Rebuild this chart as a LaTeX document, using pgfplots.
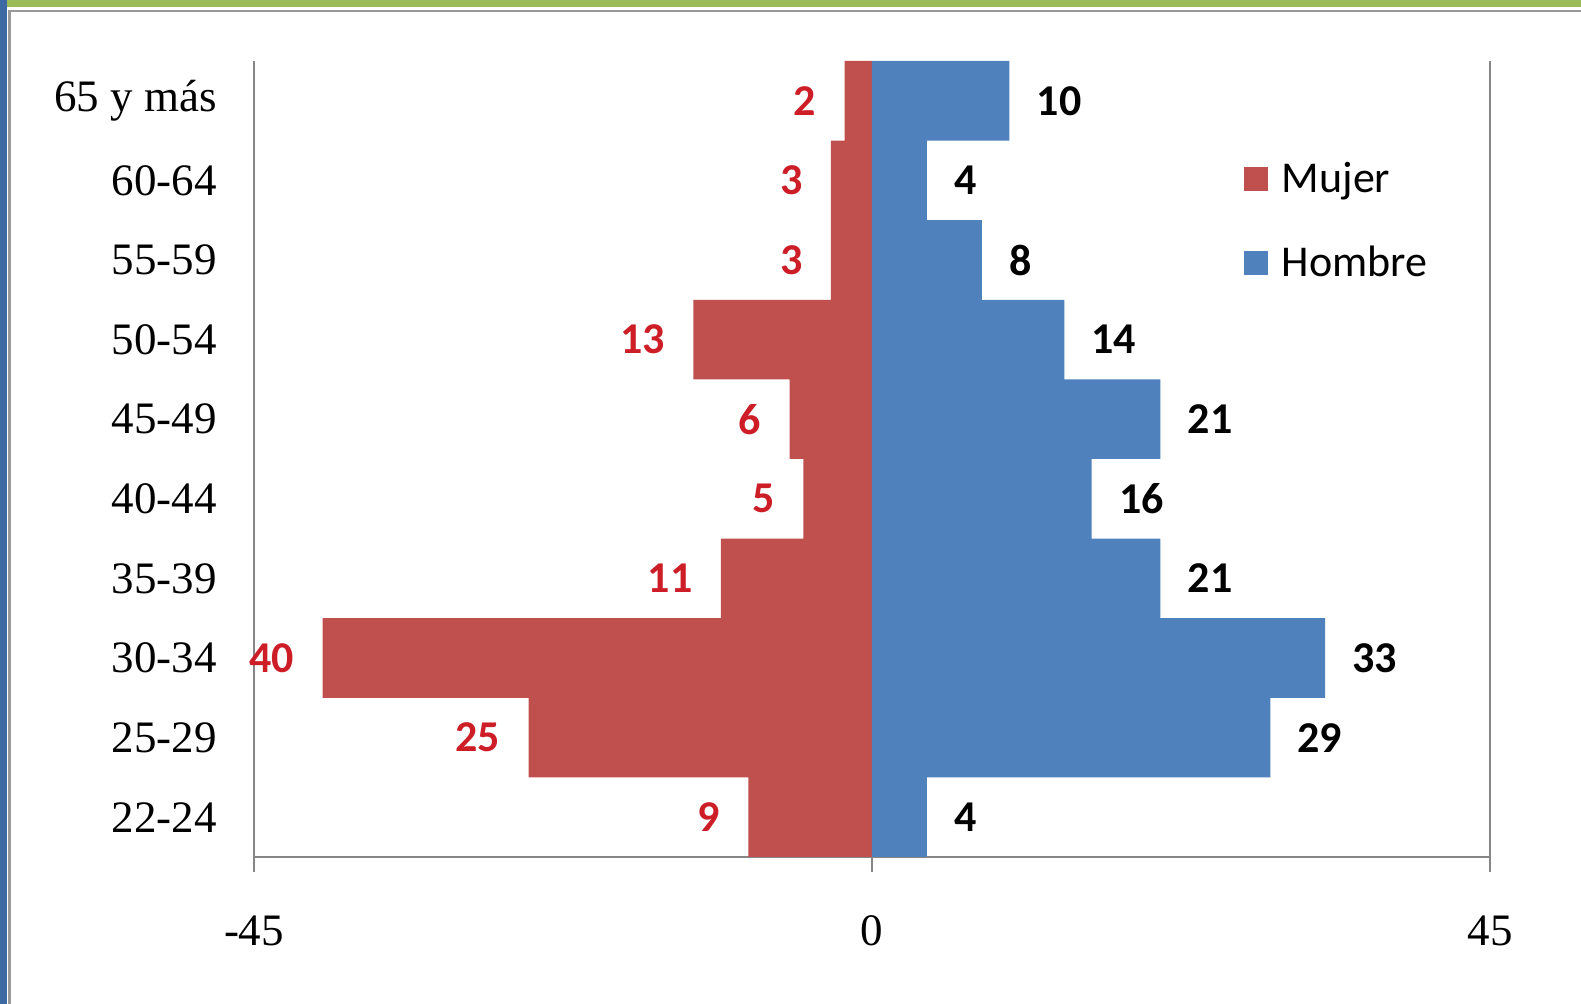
\documentclass[border=0pt]{standalone}
\usepackage{pgfplots}
\pgfplotsset{compat=1.18}
\usepackage{fontspec}
\setmainfont{Carlito}
\newfontfamily\tickfont{Liberation Serif}
\definecolor{mred}{RGB}{192,80,77}
\definecolor{hblue}{RGB}{79,129,189}
\definecolor{lblred}{RGB}{205,30,40}
\definecolor{fgreen}{RGB}{155,187,89}
\definecolor{fblue}{RGB}{62,106,164}
\definecolor{gridg}{RGB}{134,134,134}
\begin{document}
\begin{tikzpicture}
\useasboundingbox (0,0) rectangle (790.5pt,502pt);
\fill[white] (0,0) rectangle (790.5pt,502pt);
\fill[fgreen] (2pt,498.5pt) rectangle (790.5pt,502pt);
\fill[fblue] (0,0) rectangle (3.5pt,502pt);
\draw[gray!80, line width=1.2pt] (4.8pt,0) -- (4.8pt,496.5pt) -- (790.5pt,496.5pt);
\begin{axis}[
  at={(127pt,73.5pt)}, anchor=south west,
  width=618pt, height=398pt, scale only axis,
  xmin=-45, xmax=45, ymin=-0.5, ymax=9.5,
  /pgf/number format/assume math mode=true,
  axis x line*=bottom, axis y line*=left,
  axis line style={gridg, line width=1pt, -},
  xtick={-45,0,45}, xticklabels={-45,0,45},
  xmajorgrids, grid style={gridg, line width=0.8pt},
  xtick align=outside, major x tick style={gridg, line width=0.8pt}, major tick length=7.5pt,
  ytick={0,...,9},
  yticklabels={22-24,25-29,30-34,35-39,40-44,45-49,50-54,55-59,60-64,65 y más},
  major y tick style={draw=none},
  yticklabel style={font=\tickfont\fontsize{22.5}{26}\selectfont, inner sep=0pt, xshift=-11pt},
  xticklabel style={font=\tickfont\fontsize{22.5}{26}\selectfont, inner sep=0pt, yshift=-21.5pt},
  xbar, bar width=1, bar shift=0pt,
  point meta=explicit,
  nodes near coords={\pgfmathprintnumber[assume math mode=true]{\pgfplotspointmeta}},
  nodes near coords style={font=\bfseries\fontsize{22}{26}\selectfont, inner sep=0pt},
  legend style={at={(rel axis cs:0.8005,0.873)}, anchor=north west, draw=none, fill=none,
    font=\fontsize{22}{26}\selectfont, row sep=25pt, inner sep=0pt,
    nodes={inner sep=0pt, anchor=west}},
  legend cell align=left,
  legend image code/.code={\fill[#1] (0pt,-6pt) rectangle (12pt,6pt); \path (19pt,0pt);},
]
\addplot[fill=mred, draw=none,
  nodes near coords style={anchor=east, xshift=-14pt, text=lblred}]
  coordinates {(-9,0) [9] (-25,1) [25] (-40,2) [40] (-11,3) [11] (-5,4) [5]
               (-6,5) [6] (-13,6) [13] (-3,7) [3] (-3,8) [3] (-2,9) [2]};
\addlegendentry{Mujer}
\addplot[fill=hblue, draw=none,
  nodes near coords style={anchor=west, xshift=13.5pt, text=black}]
  coordinates {(4,0) [4] (29,1) [29] (33,2) [33] (21,3) [21] (16,4) [16]
               (21,5) [21] (14,6) [14] (8,7) [8] (4,8) [4] (10,9) [10]};
\addlegendentry{Hombre}
\end{axis}
\end{tikzpicture}
\end{document}
